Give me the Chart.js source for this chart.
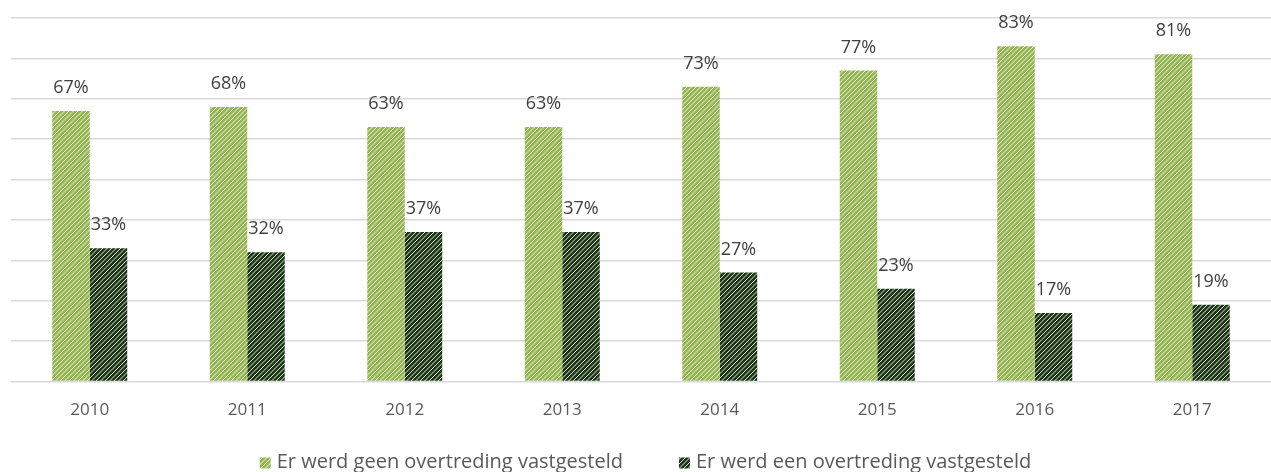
<!DOCTYPE html>
<html>
<head>
<meta charset="utf-8">
<script src="https://cdn.jsdelivr.net/npm/chart.js@4"></script>
<style>
  html, body { margin: 0; padding: 0; background: #fff; }
  #wrap { width: 1271px; height: 472px; }
</style>
</head>
<body>
<div id="wrap"><canvas id="myChart"></canvas></div>
<script>
  // data
  var years = ['2010', '2011', '2012', '2013', '2014', '2015', '2016', '2017'];
  var geenOvertreding = [67, 68, 63, 63, 73, 77, 83, 81];
  var welOvertreding = [33, 32, 37, 37, 27, 23, 17, 19];
  var seriesNames = ['Er werd geen overtreding vastgesteld', 'Er werd een overtreding vastgesteld'];

  var FONT = '"Open Sans", "Liberation Sans", sans-serif';

  // diagonal white stripes on a coloured tile
  function hatch(color) {
    var s = 9;
    var c = document.createElement('canvas');
    c.width = s; c.height = s;
    var g = c.getContext('2d');
    g.fillStyle = color;
    g.fillRect(0, 0, s, s);
    g.strokeStyle = 'rgba(255,255,255,0.85)';
    g.lineWidth = 1.0;
    [0, 4.5, 9, 13.5, 18].forEach(function (k) {
      g.beginPath();
      g.moveTo(k - 20, 20);
      g.lineTo(k + 20, -20);
      g.stroke();
    });
    return g.createPattern(c, 'repeat');
  }

  var lightFill = hatch('#94b651');
  var darkFill = hatch('#1d3715');

  // value labels above the bars
  var valueLabels = {
    id: 'valueLabels',
    afterDatasetsDraw: function (chart) {
      var ctx = chart.ctx;
      ctx.save();
      ctx.font = '18px ' + FONT;
      ctx.fillStyle = '#404040';
      ctx.textAlign = 'center';
      ctx.textBaseline = 'middle';
      chart.data.datasets.forEach(function (ds, i) {
        chart.getDatasetMeta(i).data.forEach(function (bar, j) {
          ctx.fillText(ds.data[j] + '%', bar.x, bar.y - 23);
        });
      });
      ctx.restore();
    }
  };

  // legend at the bottom
  var bottomLegend = {
    id: 'bottomLegend',
    afterDraw: function (chart) {
      var ctx = chart.ctx;
      ctx.save();
      ctx.font = '20px ' + FONT;
      ctx.textBaseline = 'middle';
      var box = 11, gap = 6, between = 56;
      var widths = chart.data.datasets.map(function (ds) { return ctx.measureText(ds.label).width; });
      var total = 0;
      widths.forEach(function (w, i) { total += box + gap + w + (i ? between : 0); });
      var x = chart.width / 2 + 10 - total / 2;
      var y = 462;
      chart.data.datasets.forEach(function (ds, i) {
        ctx.fillStyle = ds.backgroundColor;
        ctx.fillRect(x, y - box / 2 + 1, box, box);
        ctx.fillStyle = '#595959';
        ctx.fillText(ds.label, x + box + gap, y);
        x += box + gap + widths[i] + between;
      });
      ctx.restore();
    }
  };

  var ctx = document.getElementById('myChart').getContext('2d');

  var myChart = new Chart(ctx, {
    type: 'bar',
    data: {
      labels: years,
      datasets: [{
        label: seriesNames[0],
        data: geenOvertreding,
        backgroundColor: lightFill,
        borderWidth: 0
      }, {
        label: seriesNames[1],
        data: welOvertreding,
        backgroundColor: darkFill,
        borderWidth: 0
      }]
    },
    options: {
      responsive: true,
      maintainAspectRatio: false,
      animation: false,
      datasets: {
        bar: { categoryPercentage: 0.476, barPercentage: 1 }
      },
      layout: {
        padding: { left: 11, right: 0, top: 18, bottom: 34 }
      },
      plugins: {
        legend: { display: false },
        tooltip: { enabled: false }
      },
      scales: {
        x: {
          grid: { display: false, drawTicks: false },
          border: { display: false },
          ticks: {
            padding: 18,
            color: '#595959',
            font: { family: FONT, size: 17 }
          }
        },
        y: {
          min: 0,
          max: 90,
          ticks: { display: false, stepSize: 10 },
          border: { display: false },
          grid: { color: '#d9d9d9', lineWidth: 1.5, drawTicks: false }
        }
      }
    },
    plugins: [valueLabels, bottomLegend]
  });
</script>
</body>
</html>
